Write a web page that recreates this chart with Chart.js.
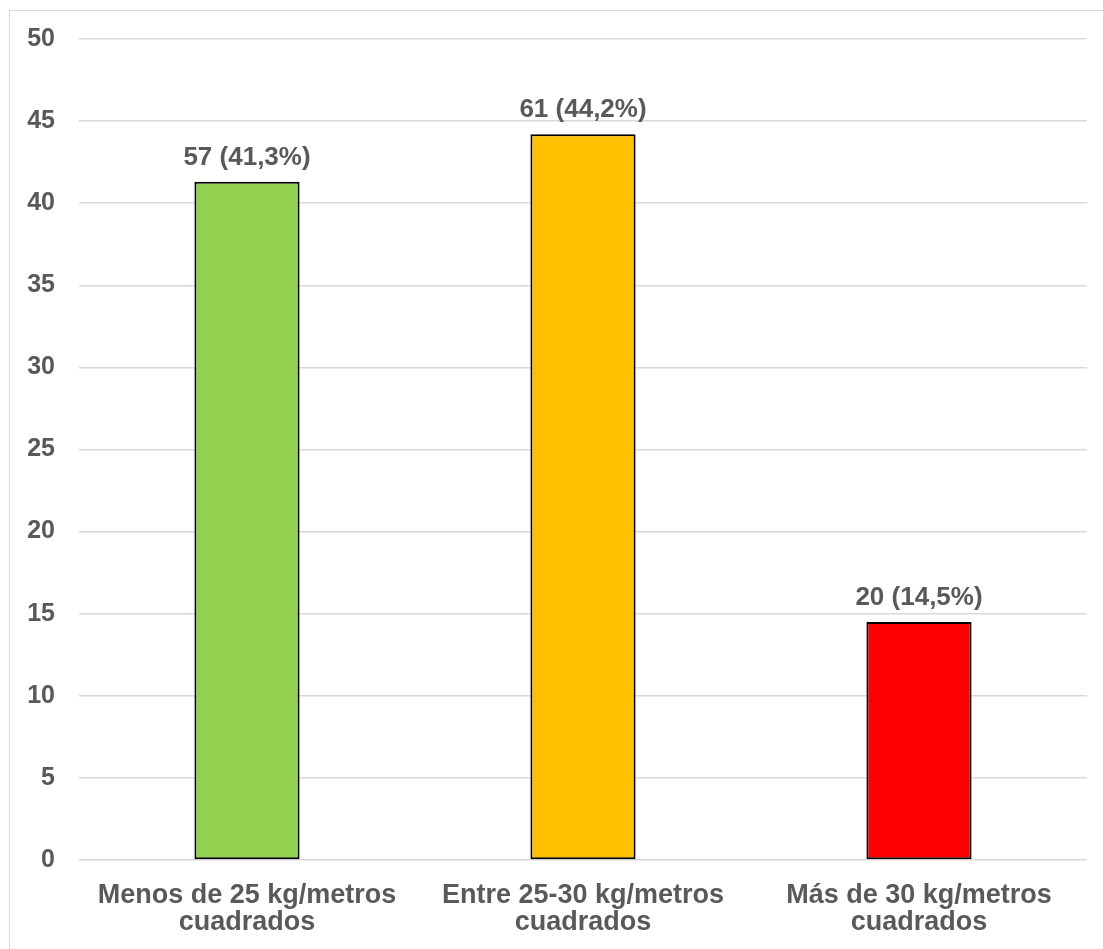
<!DOCTYPE html>
<html lang="es">
<head>
<meta charset="utf-8">
<title>IMC</title>
<script src="https://cdn.jsdelivr.net/npm/chart.js@4.4.1/dist/chart.umd.min.js"></script>
<style>
    html, body { margin: 0; padding: 0; background: #fff; overflow: hidden; }
    #wrap { position: relative; width: 1103px; height: 949px; }
    #frame {
        position: absolute; left: 9px; top: 10px;
        width: 1300px; height: 1200px;
        border: 1.5px solid #d9d9d9;
        pointer-events: none;
    }
    canvas { position: absolute; left: 0; top: 0; }
</style>
</head>
<body>
<div id="wrap">
    <div id="frame"></div>
    <canvas id="imcChart" width="1103" height="949"></canvas>
</div>
<script>
// Categories and values
const categories = [
    ['Menos de 25 kg/metros', 'cuadrados'],
    ['Entre 25-30 kg/metros', 'cuadrados'],
    ['Más de 30 kg/metros', 'cuadrados']
];
const counts = [57, 61, 20];
const percents = [41.3, 44.2, 14.5];
const barColors = ['#92d050', '#ffc000', '#ff0000'];
const yTicks = [0, 5, 10, 15, 20, 25, 30, 35, 40, 45, 50];

const textColor = '#595959';
const fontFamily = "'Liberation Sans', Arial, sans-serif";

// Value labels above each bar: "57 (41,3%)"
const barLabels = {
    id: 'barLabels',
    afterDatasetsDraw(chart) {
        const ctx = chart.ctx;
        const meta = chart.getDatasetMeta(0);
        ctx.save();
        ctx.font = `bold 26px ${fontFamily}`;
        ctx.fillStyle = textColor;
        ctx.textAlign = 'center';
        ctx.textBaseline = 'alphabetic';
        meta.data.forEach((bar, i) => {
            const pct = percents[i].toFixed(1).replace('.', ',');
            ctx.fillText(`${counts[i]} (${pct}%)`, bar.x, bar.y - 17);
        });
        ctx.restore();
    }
};

const ctx = document.getElementById('imcChart').getContext('2d');

new Chart(ctx, {
    type: 'bar',
    data: {
        labels: categories,
        datasets: [{
            data: percents,
            backgroundColor: barColors,
            borderColor: '#000',
            borderWidth: 2,
            borderSkipped: false,
            categoryPercentage: 1,
            barPercentage: 0.313
        }]
    },
    options: {
        responsive: false,
        animation: false,
        devicePixelRatio: 1,
        layout: {
            padding: { left: 9, right: 16, top: 39, bottom: 0 }
        },
        plugins: {
            legend: { display: false },
            tooltip: { enabled: false }
        },
        scales: {
            x: {
                grid: { display: false },
                border: { display: false },
                ticks: {
                    color: textColor,
                    padding: 14,
                    maxRotation: 0,
                    autoSkip: false,
                    font: { size: 27, weight: 'bold', family: fontFamily, lineHeight: 1.0 }
                },
                afterFit: scale => { scale.height = 89; }
            },
            y: {
                min: 0,
                max: 50,
                afterBuildTicks: scale => {
                    scale.ticks = yTicks.map(v => ({ value: v }));
                },
                grid: {
                    color: '#d9d9d9',
                    lineWidth: 1.5,
                    drawTicks: false
                },
                border: { display: false },
                ticks: {
                    color: textColor,
                    padding: 24,
                    font: { size: 25, weight: 'bold', family: fontFamily }
                },
                afterFit: scale => { scale.width = 70; }
            }
        }
    },
    plugins: [barLabels]
});
</script>
</body>
</html>
